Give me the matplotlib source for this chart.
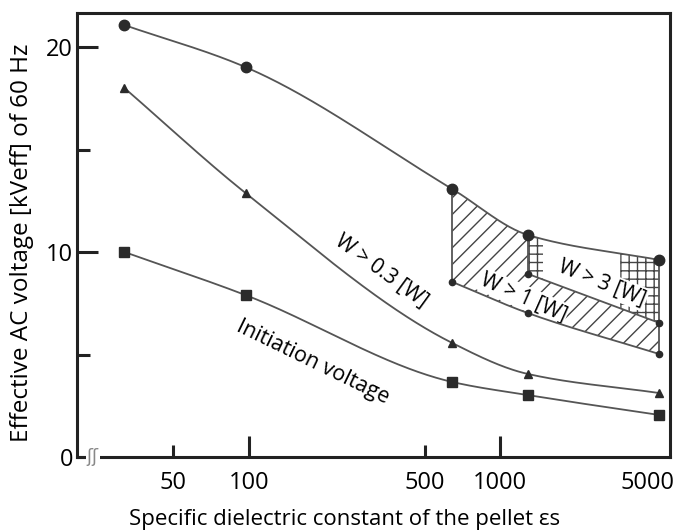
import matplotlib.pyplot as plt
import numpy as np

plt.rcParams["font.family"] = ["Open Sans", "DejaVu Sans"]
plt.rcParams["hatch.linewidth"] = 1.0

# permittivity of the pellet at the measured columns (log axis)
eps_s = [32, 97, 645, 1290, 4300]

# effective AC voltage [kVeff]
v_upper = [21.07, 19.02, 13.07, 10.83, 9.61]
v_w03 = [18.0, 12.88, 5.56, 4.05, 3.12]
v_init = [10.0, 7.9, 3.66, 3.02, 2.05]

# lower edges of the hatched W > 1 and W > 3 areas
eps_w1 = [645, 1290, 4300]
v_w1_low = [8.54, 7.02, 5.02]
eps_w3 = [1290, 4300]
v_w3_low = [8.93, 6.54]

# eps ranges where the W > 3 area is cross-hatched
cross_spans = [(1290, 1480), (3000, 4300)]

x_ticks = [100, 1000]
x_ticklabels = ["100", "1000"]
# the "5000" label sits under the last column and has no tick mark
x_minor = [50, 500, 3850]
x_minor_labels = ["50", "500", "5000"]
y_ticks = [0, 10, 20]
y_minor = [5, 15]

LINE = "#555555"
MARK = "#2b2b2b"


def pchip(x, y, xs):
    x = np.asarray(x, float)
    y = np.asarray(y, float)
    h = np.diff(x)
    d = np.diff(y) / h
    n = len(x)
    m = np.zeros(n)
    m[0], m[-1] = d[0], d[-1]
    for k in range(1, n - 1):
        if d[k - 1] * d[k] > 0:
            w1 = 2 * h[k] + h[k - 1]
            w2 = h[k] + 2 * h[k - 1]
            m[k] = (w1 + w2) / (w1 / d[k - 1] + w2 / d[k])
    i = np.clip(np.searchsorted(x, xs) - 1, 0, n - 2)
    t = (xs - x[i]) / h[i]
    h00 = 2 * t**3 - 3 * t**2 + 1
    h10 = t**3 - 2 * t**2 + t
    h01 = -2 * t**3 + 3 * t**2
    h11 = t**3 - t**2
    return h00 * y[i] + h10 * h[i] * m[i] + h01 * y[i + 1] + h11 * h[i] * m[i + 1]


def curve(xd, yd, lo=None, hi=None, n=300):
    lx = np.log10(xd)
    a = np.log10(lo) if lo else lx[0]
    b = np.log10(hi) if hi else lx[-1]
    xs = np.linspace(a, b, n)
    return 10**xs, pchip(lx, yd, xs)


fig = plt.figure(figsize=(6.79, 5.30), dpi=100)
ax = fig.add_axes([0.114, 0.1377, 0.873, 0.8378])
ax.set_xscale("log")
ax.set_xlim(20.8, 4744)
ax.set_ylim(0, 21.66)

# hatched W > 1 band
xb, yb_low = curve(eps_w1, v_w1_low)
_, yb_circ = curve(eps_s, v_upper, eps_w1[0], eps_w1[-1])
_, yb_w3 = curve(eps_w3, v_w3_low, eps_w1[0], eps_w1[-1])
yb_top = np.where(xb < eps_w3[0], yb_circ, np.maximum(yb_w3, yb_low))
ax.fill_between(xb, yb_low, yb_top, facecolor="none", edgecolor="#444444",
                hatch="//", linewidth=0, zorder=1)

# cross-hatched bits of the W > 3 area
for lo, hi in cross_spans:
    xc, yc_top = curve(eps_s, v_upper, lo, hi, 60)
    _, yc_low = curve(eps_w3, v_w3_low, lo, hi, 60)
    ax.fill_between(xc, yc_low, yc_top, facecolor="none", edgecolor="#444444",
                    hatch="++", linewidth=0, zorder=1)

# curves
for yd in (v_upper, v_w03, v_init):
    xs, ys = curve(eps_s, yd)
    ax.plot(xs, ys, color=LINE, lw=1.3, zorder=3)
for xd, yd in ((eps_w1, v_w1_low), (eps_w3, v_w3_low)):
    xs, ys = curve(xd, yd)
    ax.plot(xs, ys, color=LINE, lw=1.3, zorder=3)

# vertical edges of the hatched areas
ax.vlines(eps_s[2], v_w1_low[0], v_upper[2], color=LINE, lw=1.3, zorder=3)
ax.vlines(eps_s[3], v_w3_low[0], v_upper[3], color=LINE, lw=1.3, zorder=3)
ax.vlines(eps_s[4], v_w1_low[-1], v_upper[4], color=LINE, lw=1.3, zorder=3)

# markers
ax.plot(eps_s, v_upper, "o", color=MARK, ms=7.5, zorder=4)
ax.plot(eps_s, v_w03, "^", color=MARK, ms=6, zorder=4)
ax.plot(eps_s, v_init, "s", color=MARK, ms=6.5, zorder=4)
ax.plot(eps_w1, v_w1_low, "o", color=MARK, ms=4.5, zorder=4)
ax.plot(eps_w3, v_w3_low, "o", color=MARK, ms=4.5, zorder=4)

label_box = dict(facecolor="white", edgecolor="none", pad=1.0)
ax.text(336, 9.07, "W > 0.3 [W]", rotation=-36, fontsize=15,
        ha="center", va="center", rotation_mode="anchor", zorder=2.5, bbox=label_box)
ax.text(179, 4.63, "Initiation voltage", rotation=-26, fontsize=15.5,
        ha="center", va="center", rotation_mode="anchor", zorder=2.5, bbox=label_box)
ax.text(1235, 7.8, "W > 1 [W]", rotation=-24, fontsize=15,
        ha="center", va="center", rotation_mode="anchor", zorder=2.5, bbox=label_box)
ax.text(2547, 8.49, "W > 3 [W]", rotation=-22, fontsize=15,
        ha="center", va="center", rotation_mode="anchor", zorder=2.5, bbox=label_box)

# axes styling
for sp in ax.spines.values():
    sp.set_linewidth(2.2)
    sp.set_color("#222222")

ax.set_xticks(x_ticks)
ax.set_xticklabels(x_ticklabels)
ax.set_xticks(x_minor, minor=True)
ax.set_xticklabels(x_minor_labels, minor=True)
ax.set_yticks(y_ticks)
ax.set_yticks(y_minor, minor=True)
ax.tick_params(axis="both", which="both", direction="in", width=2.2,
               color="#222222", labelsize=17, top=False, right=False)
ax.tick_params(axis="both", which="major", length=15)
ax.tick_params(axis="both", which="minor", length=9)
ax.tick_params(axis="x", which="both", pad=10)
ax.tick_params(axis="y", which="both", pad=3)
ax.xaxis.get_minor_ticks()[2].tick1line.set_visible(False)

# axis break mark at the origin
ax.text(0.026, 0.0, "ʃʃ", transform=ax.transAxes, fontsize=13, color="#888888",
        ha="center", va="center", family="DejaVu Sans", clip_on=False, zorder=6,
        bbox=dict(facecolor="white", edgecolor="none", pad=0.5))

fig.text(345 / 679, 1 - 520 / 530, "Specific dielectric constant of the pellet εs",
         fontsize=16, ha="center", va="center")
fig.text(22 / 679, 1 - 243 / 530, "Effective AC voltage [kVeff] of 60 Hz",
         fontsize=17.5, ha="center", va="center", rotation=90)

fig.savefig("out.png", dpi=100)
